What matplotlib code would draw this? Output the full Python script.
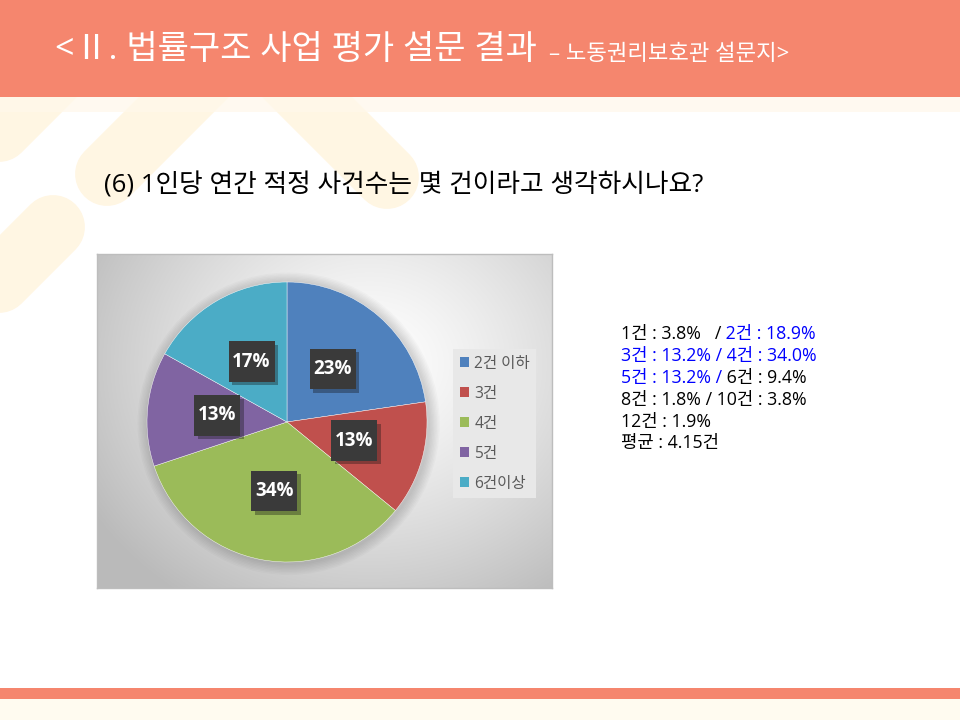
import matplotlib
matplotlib.use('Agg')
import matplotlib.pyplot as plt
import matplotlib.patheffects as pe
from matplotlib.patches import Rectangle, Circle
from matplotlib.path import Path
import numpy as np

plt.rcParams['font.family'] = ['Open Sans', 'Noto Sans CJK KR', 'DejaVu Sans']

# ── text ──
title_main = '<Ⅱ. 법률구조 사업 평가 설문 결과'
title_sub = '– 노동권리보호관 설문지>'
question = '(6) 1인당 연간 적정 사건수는 몇 건이라고 생각하시나요?'

# ── pie data ──
categories = ['2건 이하', '3건', '4건', '5건', '6건이상']
shares = [22.7, 13.2, 34.0, 13.2, 16.9]
slice_colors = ['#4F81BD', '#C0504D', '#9BBB59', '#8064A2', '#4BACC6']

# ── detail breakdown (right-hand note) ──
detail_names = ['1건', '2건', '3건', '4건', '5건', '6건', '8건', '10건', '12건']
detail_pcts = [3.8, 18.9, 13.2, 34.0, 13.2, 9.4, 1.8, 3.8, 1.9]
detail_blue = [False, True, True, True, True, False, False, False, False]
average = 4.15

W, H = 960, 720
SALMON = '#F5866E'
CREAM = '#FFF6E3'

fig = plt.figure(figsize=(9.6, 7.2), dpi=100)
fig.patch.set_facecolor('white')


def px(x0, y0, w, h):
    return [x0 / W, 1 - (y0 + h) / H, w / W, h / H]


# background layer in pixel coords
bg = fig.add_axes([0, 0, 1, 1])
bg.set_xlim(0, W)
bg.set_ylim(H, 0)
bg.axis('off')

# pale diagonal decorations
for x1, y1, x2, y2 in [(180, -51, -60, 189), (53, 227, -150, 430),
                       (107, 174, 300, -19), (387, 177, 190, -20)]:
    bg.plot([x1, x2], [y1, y2], color=CREAM, lw=46, solid_capstyle='round', zorder=1)

bg.add_patch(Rectangle((0, 97), W, 15, color='#FFF8EB', alpha=0.75, lw=0, zorder=2))
bg.add_patch(Rectangle((0, 0), W, 97, color=SALMON, lw=0, zorder=3))
bg.add_patch(Rectangle((0, 688), W, 11, color=SALMON, lw=0, zorder=3))
bg.add_patch(Rectangle((0, 699), W, 21, color='#FFFBF0', lw=0, zorder=3))

rend = fig.canvas.get_renderer()

t = bg.text(55, 50, title_main, color='white', fontsize=24.5, va='center', zorder=4)
x_end = t.get_window_extent(renderer=rend).x1
bg.text(max(x_end + 12, 545), 54, title_sub, color='white', fontsize=16, va='center', zorder=4)

bg.text(104, 185, question, color='black', fontsize=18.5, va='center', zorder=4)

# right-hand note, mixed colours
lines = []
pairs = [(0, 1), (2, 3), (4, 5), (6, 7), (8,)]
seps = ['   /', ' /', ' /', ' /']
for k, pr in enumerate(pairs):
    segs = []
    for j, i in enumerate(pr):
        col = '#0000FF' if detail_blue[i] else 'black'
        lead = ' ' if j > 0 else ''
        segs.append((f'{lead}{detail_names[i]} : {detail_pcts[i]:.1f}%', col))
        if j == 0 and len(pr) > 1:
            segs.append((seps[k], col))
    lines.append(segs)
lines.append([(f'평균 : {average}건', 'black')])

y = 334
for segs in lines:
    x = 621
    for s, col in segs:
        tt = bg.text(x, y, s, color=col, fontsize=12.8, va='center', zorder=4)
        x = tt.get_window_extent(renderer=rend).x1
    y += 21.9

# chart area with radial gradient
cax = fig.add_axes(px(97, 254, 455, 334))
gx, gy = np.meshgrid(np.linspace(0, 1, 400), np.linspace(0, 1, 300))
d = np.sqrt(((gx - 0.6) / 0.72) ** 2 + ((gy - 0.33) / 0.85) ** 2)
d = np.clip(d, 0, 1)
shade = 1.0 - 0.27 * d ** 1.3
cax.imshow(np.dstack([shade, shade, shade]), extent=(0, 1, 1, 0), aspect='auto')
cax.set_xticks([])
cax.set_yticks([])
for sp in cax.spines.values():
    sp.set_color('#BDBDBD')
    sp.set_linewidth(1)

pax = fig.add_axes(px(147, 282, 280, 280))
# soft halo behind the pie
for k in range(1, 9):
    pax.add_patch(Circle((0.012, -0.012), 1 + 0.01 * k, color='black', alpha=0.02,
                         lw=0, clip_on=False, zorder=0))
wedges, _, autotexts = pax.pie(
    shares, colors=slice_colors, startangle=90, counterclock=False,
    autopct='%1.0f%%', pctdistance=0.5, radius=1,
    wedgeprops=dict(edgecolor='white', linewidth=0.3, zorder=1))
pax.set_xlim(-1, 1)
pax.set_ylim(-1, 1)


def label_box(x0, y0, width, height, mutation_size):
    padx, pady = 0.2 * mutation_size, 0.55 * mutation_size
    x0, y0 = x0 - padx, y0 - pady
    x1, y1 = x0 + width + 2 * padx, y0 + height + 2 * pady
    return Path([(x0, y0), (x1, y0), (x1, y1), (x0, y1), (x0, y0)], closed=True)


for at in autotexts:
    at.set_color('white')
    at.set_fontweight('bold')
    at.set_fontsize(13.5)
    at.set_bbox(dict(boxstyle=label_box, fc='#3A3A3A', ec='none', lw=0))
    at.get_bbox_patch().set_path_effects(
        [pe.SimplePatchShadow(offset=(2.5, -2.5), alpha=0.35), pe.Normal()])

leg = pax.legend(wedges, categories, loc='upper left',
                 bbox_to_anchor=(453 / W, 1 - 349 / H), bbox_transform=fig.transFigure,
                 fontsize=11.2, frameon=True, fancybox=False, facecolor='#E8E8E8',
                 edgecolor='none', framealpha=1, handlelength=0.64, handleheight=0.64,
                 handletextpad=0.3, labelspacing=0.9, borderpad=0.42, borderaxespad=0)
for txt in leg.get_texts():
    txt.set_color('#595959')
for h in leg.legend_handles:
    h.set_edgecolor('none')

fig.savefig('out.png', dpi=100, facecolor='white')
